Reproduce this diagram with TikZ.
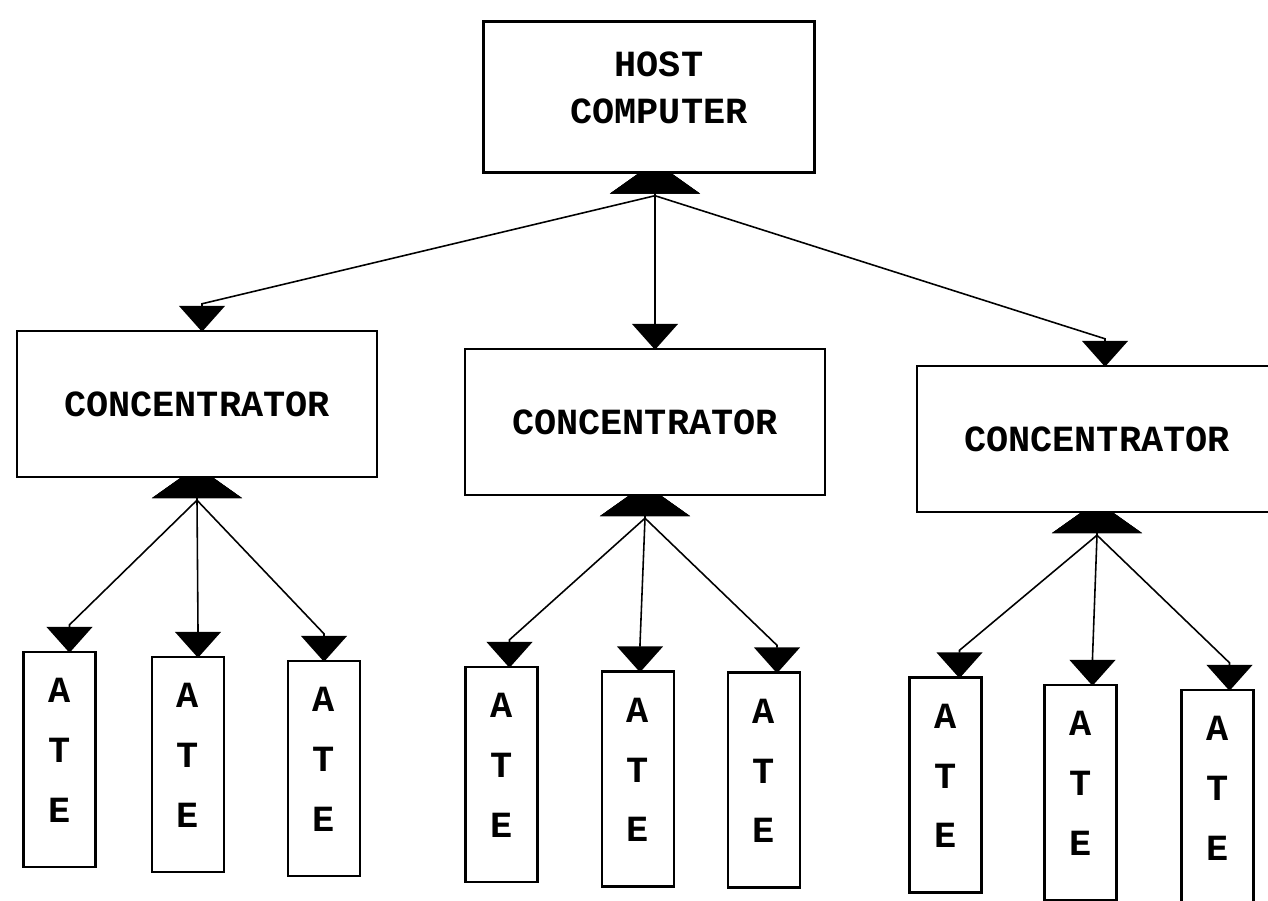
\documentclass[tikz,border=0pt]{standalone}
\usepackage{fontspec}
\newfontfamily\lblfont{Liberation Mono}
\usetikzlibrary{arrows.meta,backgrounds,calc}
\newcommand{\atetext}{\raisebox{0pt}[0pt][0pt]{\parbox{1cm}{\centering A\\T\\E}}}
\begin{document}
\begin{tikzpicture}[x=0.02cm,y=-0.02cm,
  box/.style={draw,line width=1.4pt,fill=white,inner sep=0pt,align=center,
    font=\lblfont\bfseries\fontsize{21}{27}\selectfont},
  hostbox/.style={box,minimum width=6.62cm,minimum height=3.02cm},
  concbox/.style={box,minimum width=7.2cm,minimum height=2.92cm},
  atebox/.style={box,minimum width=1.44cm,minimum height=4.3cm,
    font=\lblfont\bfseries\fontsize{21}{34}\selectfont},
  conn/.style={line width=0.9pt,
    {Triangle[length=0.64cm,width=1.8cm]}-{Triangle[length=0.52cm,width=0.92cm]}}]
\useasboundingbox (0,0) rectangle (1268,901);
\clip (0,0) rectangle (1268,901);
% boxes
\node[hostbox] (host) at (649,97) {\hspace*{0.4cm}\raisebox{0pt}[0pt][0pt]{\parbox{5cm}{\centering HOST\\COMPUTER}}};
\node[concbox] (c1) at (197,404) {CONCENTRATOR};
\node[concbox] (c2) at (645,422) {CONCENTRATOR};
\node[concbox] (c3) at (1097,439) {CONCENTRATOR};
\node[atebox] (a1) at (59.5,759.5) {\atetext};
\node[atebox] (a2) at (188,764.5) {\atetext};
\node[atebox] (a3) at (324,768.5) {\atetext};
\node[atebox] (a4) at (501.5,774.5) {\atetext};
\node[atebox] (a5) at (638,779) {\atetext};
\node[atebox] (a6) at (764,780) {\atetext};
\node[atebox] (a7) at (945.5,785) {\atetext};
\node[atebox] (a8) at (1080.5,792.5) {\atetext};
\node[atebox] (a9) at (1217.5,797.5) {\atetext};
% fan points (tips hidden inside the parent boxes)
\coordinate (fh) at ($(host.south)+(6,-12)$);
\coordinate (f1) at ($(c1.south)+(0,-12)$);
\coordinate (f2) at ($(c2.south)+(0,-12)$);
\coordinate (f3) at ($(c3.south)+(0,-12)$);
% arrow tips at children
\coordinate (tc1) at ($(c1.north)+(5,2)$);
\coordinate (tc2) at ($(c2.north)+(10,2)$);
\coordinate (tc3) at ($(c3.north)+(8,2)$);
\coordinate (t1) at ($(a1.north)+(10,2)$);
\coordinate (t2) at ($(a2.north)+(10,2)$);
\coordinate (t3) at ($(a3.north)+(0,2)$);
\coordinate (t4) at ($(a4.north)+(8,2)$);
\coordinate (t5) at ($(a5.north)+(2,2)$);
\coordinate (t6) at ($(a6.north)+(13,2)$);
\coordinate (t7) at ($(a7.north)+(14,2)$);
\coordinate (t8) at ($(a8.north)+(12,2)$);
\coordinate (t9) at ($(a9.north)+(12,2)$);
% connectors
\begin{scope}[on background layer]
\foreach \p/\c in {fh/tc1,fh/tc2,fh/tc3,f1/t1,f1/t2,f1/t3,f2/t4,f2/t5,f2/t6,f3/t7,f3/t8,f3/t9}
  \draw[conn] (\p) -- ++(0,34) -- ($(\c)+(0,-28)$) -- (\c);
\end{scope}
\end{tikzpicture}
\end{document}
